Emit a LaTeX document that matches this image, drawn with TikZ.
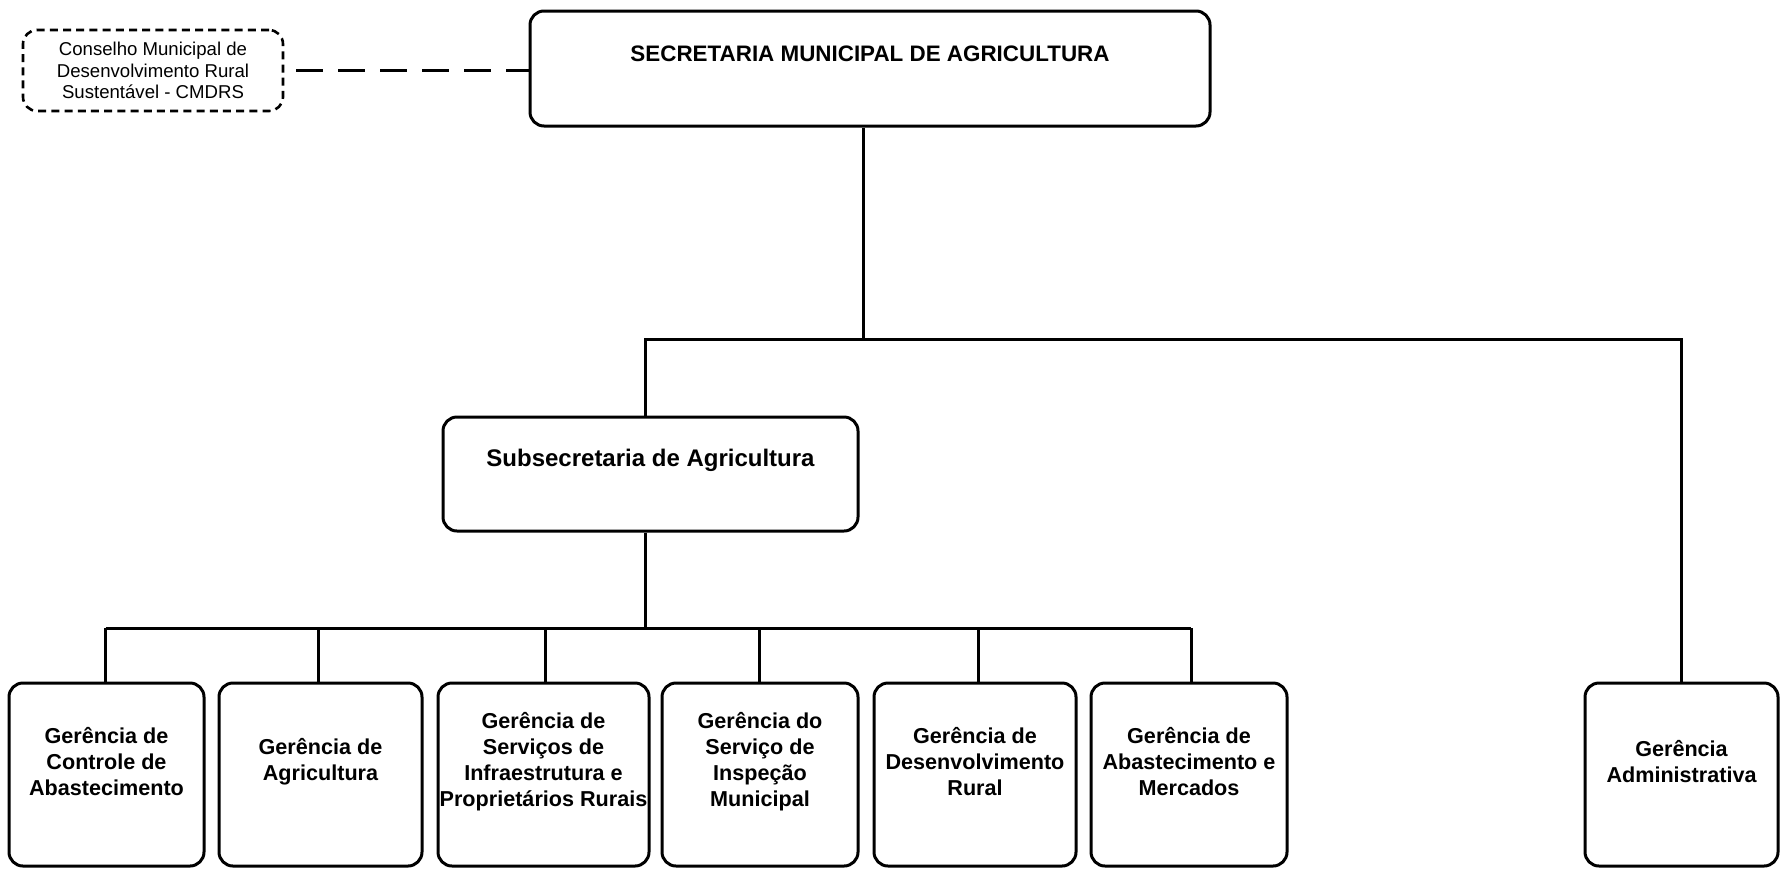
\documentclass[tikz,border=0pt]{standalone}
\usepackage{fontspec}
\setmainfont{Liberation Sans}
\begin{document}
\begin{tikzpicture}[x=0.5pt,y=-0.5pt,line width=1.5pt,
  unit/.style={draw, rounded corners=7pt, inner sep=0pt, minimum height=91.5pt},
  unittext/.style={align=center, yshift=6.25pt, font=\bfseries\fontsize{10.8}{13}\selectfont}]
\useasboundingbox (0,0) rectangle (1780,868);

% conselho and secretaria
\node[draw, dash pattern=on 4pt off 2.6pt, line width=1.3pt, rounded corners=7pt,
  minimum width=130pt, minimum height=40.5pt, align=center,
  font=\fontsize{9.3}{10.8}\selectfont] (cmdrs) at (153,70.5)
  {Conselho Municipal de\\Desenvolvimento Rural\\Sustentável - CMDRS};
\node[draw, rounded corners=7pt, minimum width=340pt, minimum height=57.5pt,
  label={[font=\bfseries\fontsize{11.2}{13}\selectfont, yshift=7.25pt]center:SECRETARIA MUNICIPAL DE AGRICULTURA}] (sec) at (870,68.5) {};
\draw[dash pattern=on 13.5pt off 7.5pt, shorten <=6pt] (cmdrs.east) -- (sec.west |- cmdrs.east);

% subsecretaria
\node[draw, rounded corners=7pt, minimum width=207.5pt, minimum height=57pt,
  label={[font=\bfseries\fontsize{12}{14}\selectfont, yshift=7pt]center:Subsecretaria de Agricultura}] (sub) at (650.5,474) {};

\coordinate (bus1) at (863,339);
\coordinate (bus2) at (645,628);

% gerencias
\foreach \name/\x/\w/\d/\txt in {
  g1/106.5/97.5/105.5/{Gerência de\\Controle de\\Abastecimento},
  g2/320.5/101.5/318/{Gerência de\\Agricultura},
  g3/543.5/105.5/545/{Gerência de\\Serviços de\\Infraestrutura e\\Proprietários Rurais},
  g4/760/98/759.5/{Gerência do\\Serviço de\\Inspeção\\Municipal},
  g5/975/101/978.5/{Gerência de\\Desenvolvimento\\Rural},
  g6/1189/98/1191/{Gerência de\\Abastecimento e\\Mercados}} {
  \node[unit, minimum width=\w pt, label={[unittext]center:\txt}] (\name) at (\x,774.5) {};
  \coordinate (d\name) at (\d,628);
  \draw (\name.north -| d\name) -- (d\name);
}
\node[unit, minimum width=96.5pt, label={[unittext]center:Gerência\\Administrativa}] (adm) at (1681.5,774.5) {};

% linhas
\draw (sec.south -| bus1) -- (bus1);
\draw (sub.north -| bus2) |- (bus1) -| (adm.north);
\draw (sub.south -| bus2) -- (bus2);
\draw (dg1) -- (dg6);
\end{tikzpicture}
\end{document}
